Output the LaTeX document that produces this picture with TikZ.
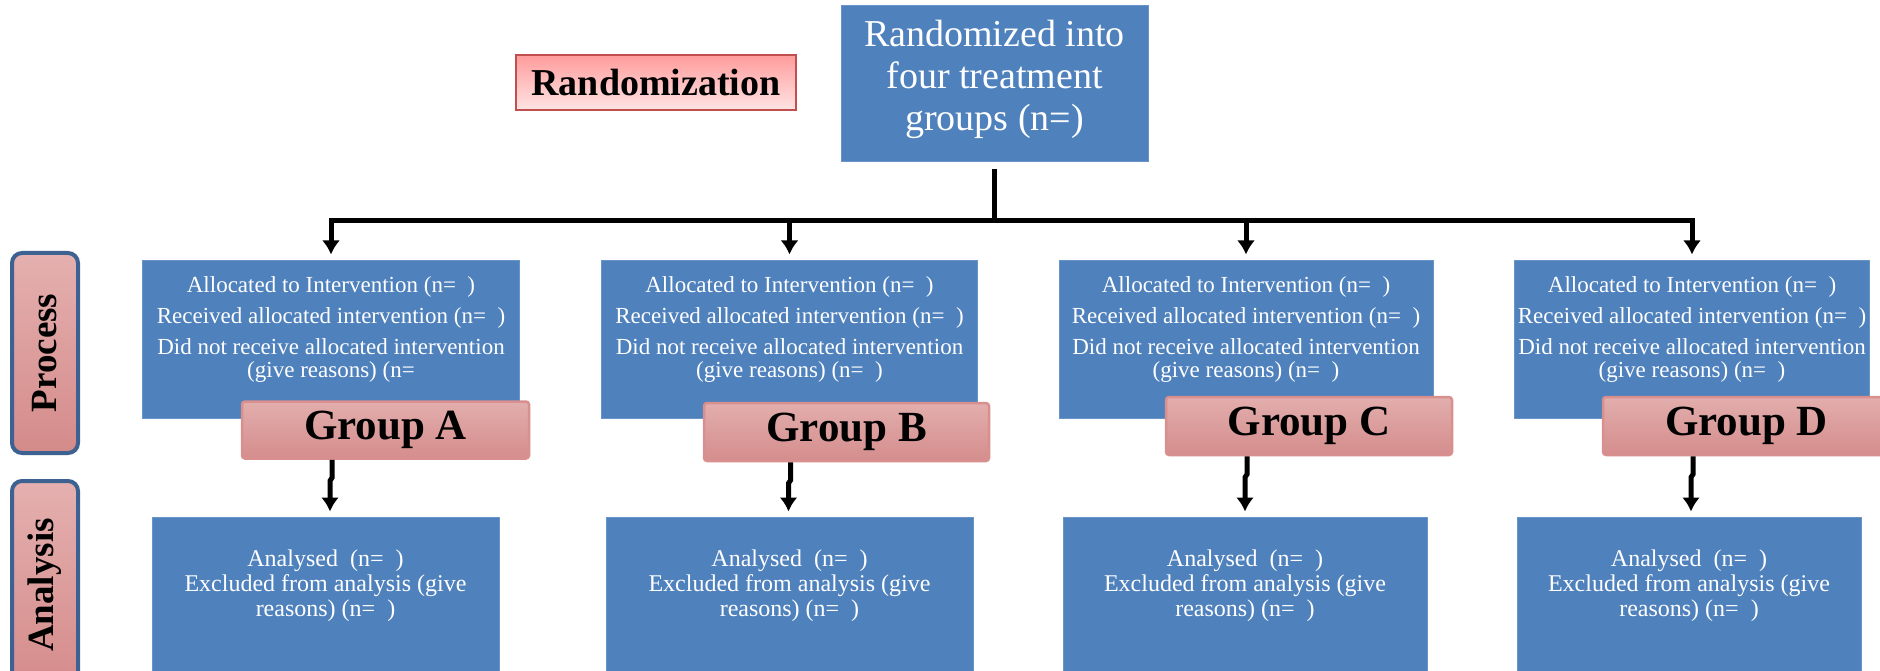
\documentclass[tikz,border=0pt]{standalone}
\usepackage{fontspec}
\setmainfont{Liberation Serif}
\usetikzlibrary{arrows.meta}
\definecolor{boxblue}{HTML}{4F81BD}
\definecolor{randtop}{HTML}{FF9C9C}
\definecolor{randbot}{HTML}{FFE4E4}
\definecolor{randedge}{HTML}{C0504D}
\definecolor{grptop}{HTML}{E2AEAD}
\definecolor{grpbot}{HTML}{D48D8C}
\definecolor{grpedge}{HTML}{D8908F}
\definecolor{sideleft}{HTML}{E4B0AF}
\definecolor{sideright}{HTML}{D48B8A}
\definecolor{sideedge}{HTML}{3D6291}
\begin{document}
\begin{tikzpicture}[x=1pt,y=-1pt,
  bluebox/.style={draw=boxblue!85!white, line width=1pt, fill=boxblue,
    text=white, inner sep=0pt},
  grouplbl/.style={draw=grpedge, line width=2.5pt, rounded corners=3pt,
    top color=grptop, bottom color=grpbot, inner sep=0pt,
    font=\fontsize{43}{43}\selectfont\bfseries},
  sidelbl/.style={draw=sideedge, line width=4pt, rounded corners=10pt,
    top color=sideleft, bottom color=sideright, rotate=90, inner sep=0pt,
    minimum height=66, font=\fontsize{37}{37}\selectfont\bfseries},
  conn/.style={line width=5pt},
  flow/.style={conn, -{Latex[length=14pt,width=18pt]}}]
  \useasboundingbox (0,0) rectangle (1880,671);
  \clip (0,0) rectangle (1880,671);

  % top of the chart
  \node[bluebox, minimum width=307, minimum height=156] (rand) at (994.5,84)
    {\parbox[c][128pt][t]{300pt}{\centering\fontsize{38}{42}\selectfont
     Randomized into\\ four treatment\\ groups (n=)}};
  \node[draw=randedge, line width=2pt, top color=randtop, bottom color=randbot,
    minimum width=280, minimum height=55, inner sep=0pt,
    font=\fontsize{38}{38}\selectfont\bfseries] (randlbl) at (656,82.5) {Randomization};
  \coordinate (bus) at (994.5,221);
  \draw[conn] ([yshift=-7pt]rand.south) -- (bus);

  % side labels
  \node[sidelbl, minimum width=200] (process) at (45,353) {Process};
  \node[sidelbl, minimum width=208] (analysis) at (45,585) {Analysis};

  \begin{scope}[shift={(331,0)}]
  \node[bluebox, minimum width=377, minimum height=157] (procA) at (0,339.5)
    {\parbox[c][126pt][t]{370pt}{\centering\fontsize{23}{23}\selectfont
     Allocated to Intervention (n=~~)\\[8pt]
     Received allocated intervention (n=~~)\\[8pt]
     Did not receive allocated intervention\\
     (give reasons) (n=}};
  \node[grouplbl, minimum width=287, minimum height=57] (grpA) at (54.5,430) {Group A};
  \node[bluebox, minimum width=347, minimum height=163] (anlA) at (-5.5,598.5)
    {\parbox[c][97pt][t]{340pt}{\centering\fontsize{24}{25}\selectfont
     Analysed~~(n=~~)\\
     Excluded from analysis (give\\
     reasons) (n=~~)}};
  \end{scope}
  \draw[flow] (bus) -| ([yshift=6pt]procA.north);
  \draw[flow] ([xshift=1pt]procA.north |- grpA.south) -- ++(0,18) -- ++(-2,3)
              -- ([xshift=-1pt,yshift=5pt]procA.north |- anlA.north);

  \begin{scope}[shift={(789.5,0)}]
  \node[bluebox, minimum width=376, minimum height=157] (procB) at (0,339.5)
    {\parbox[c][126pt][t]{370pt}{\centering\fontsize{23}{23}\selectfont
     Allocated to Intervention (n=~~)\\[8pt]
     Received allocated intervention (n=~~)\\[8pt]
     Did not receive allocated intervention\\
     (give reasons) (n=~~)}};
  \node[grouplbl, minimum width=285, minimum height=58] (grpB) at (57,432) {Group B};
  \node[bluebox, minimum width=367, minimum height=163] (anlB) at (0,598.5)
    {\parbox[c][97pt][t]{360pt}{\centering\fontsize{24}{25}\selectfont
     Analysed~~(n=~~)\\
     Excluded from analysis (give\\
     reasons) (n=~~)}};
  \end{scope}
  \draw[flow] (bus) -| ([yshift=6pt]procB.north);
  \draw[flow] ([xshift=1pt]procB.north |- grpB.south) -- ++(0,18) -- ++(-2,3)
              -- ([xshift=-1pt,yshift=5pt]procB.north |- anlB.north);

  \begin{scope}[shift={(1246,0)}]
  \node[bluebox, minimum width=374, minimum height=157] (procC) at (0,339.5)
    {\parbox[c][126pt][t]{368pt}{\centering\fontsize{23}{23}\selectfont
     Allocated to Intervention (n=~~)\\[8pt]
     Received allocated intervention (n=~~)\\[8pt]
     Did not receive allocated intervention\\
     (give reasons) (n=~~)}};
  \node[grouplbl, minimum width=286, minimum height=58] (grpC) at (63,426) {Group C};
  \node[bluebox, minimum width=364, minimum height=163] (anlC) at (-1,598.5)
    {\parbox[c][97pt][t]{358pt}{\centering\fontsize{24}{25}\selectfont
     Analysed~~(n=~~)\\
     Excluded from analysis (give\\
     reasons) (n=~~)}};
  \end{scope}
  \draw[flow] (bus) -| ([yshift=6pt]procC.north);
  \draw[flow] ([xshift=1pt]procC.north |- grpC.south) -- ++(0,18) -- ++(-2,3)
              -- ([xshift=-1pt,yshift=5pt]procC.north |- anlC.north);

  \begin{scope}[shift={(1692,0)}]
  \node[bluebox, minimum width=355, minimum height=157] (procD) at (0,339.5)
    {\parbox[c][126pt][t]{352pt}{\centering\fontsize{23}{23}\selectfont
     Allocated to Intervention (n=~~)\\[8pt]
     Received allocated intervention (n=~~)\\[8pt]
     Did not receive allocated intervention\\
     (give reasons) (n=~~)}};
  \node[grouplbl, minimum width=287, minimum height=58] (grpD) at (54.5,426) {Group D};
  \node[bluebox, minimum width=344, minimum height=163] (anlD) at (-3,598.5)
    {\parbox[c][97pt][t]{340pt}{\centering\fontsize{24}{25}\selectfont
     Analysed~~(n=~~)\\
     Excluded from analysis (give\\
     reasons) (n=~~)}};
  \end{scope}
  \draw[flow] (bus) -| ([yshift=6pt]procD.north);
  \draw[flow] ([xshift=1pt]procD.north |- grpD.south) -- ++(0,18) -- ++(-2,3)
              -- ([xshift=-1pt,yshift=5pt]procD.north |- anlD.north);
\end{tikzpicture}
\end{document}
